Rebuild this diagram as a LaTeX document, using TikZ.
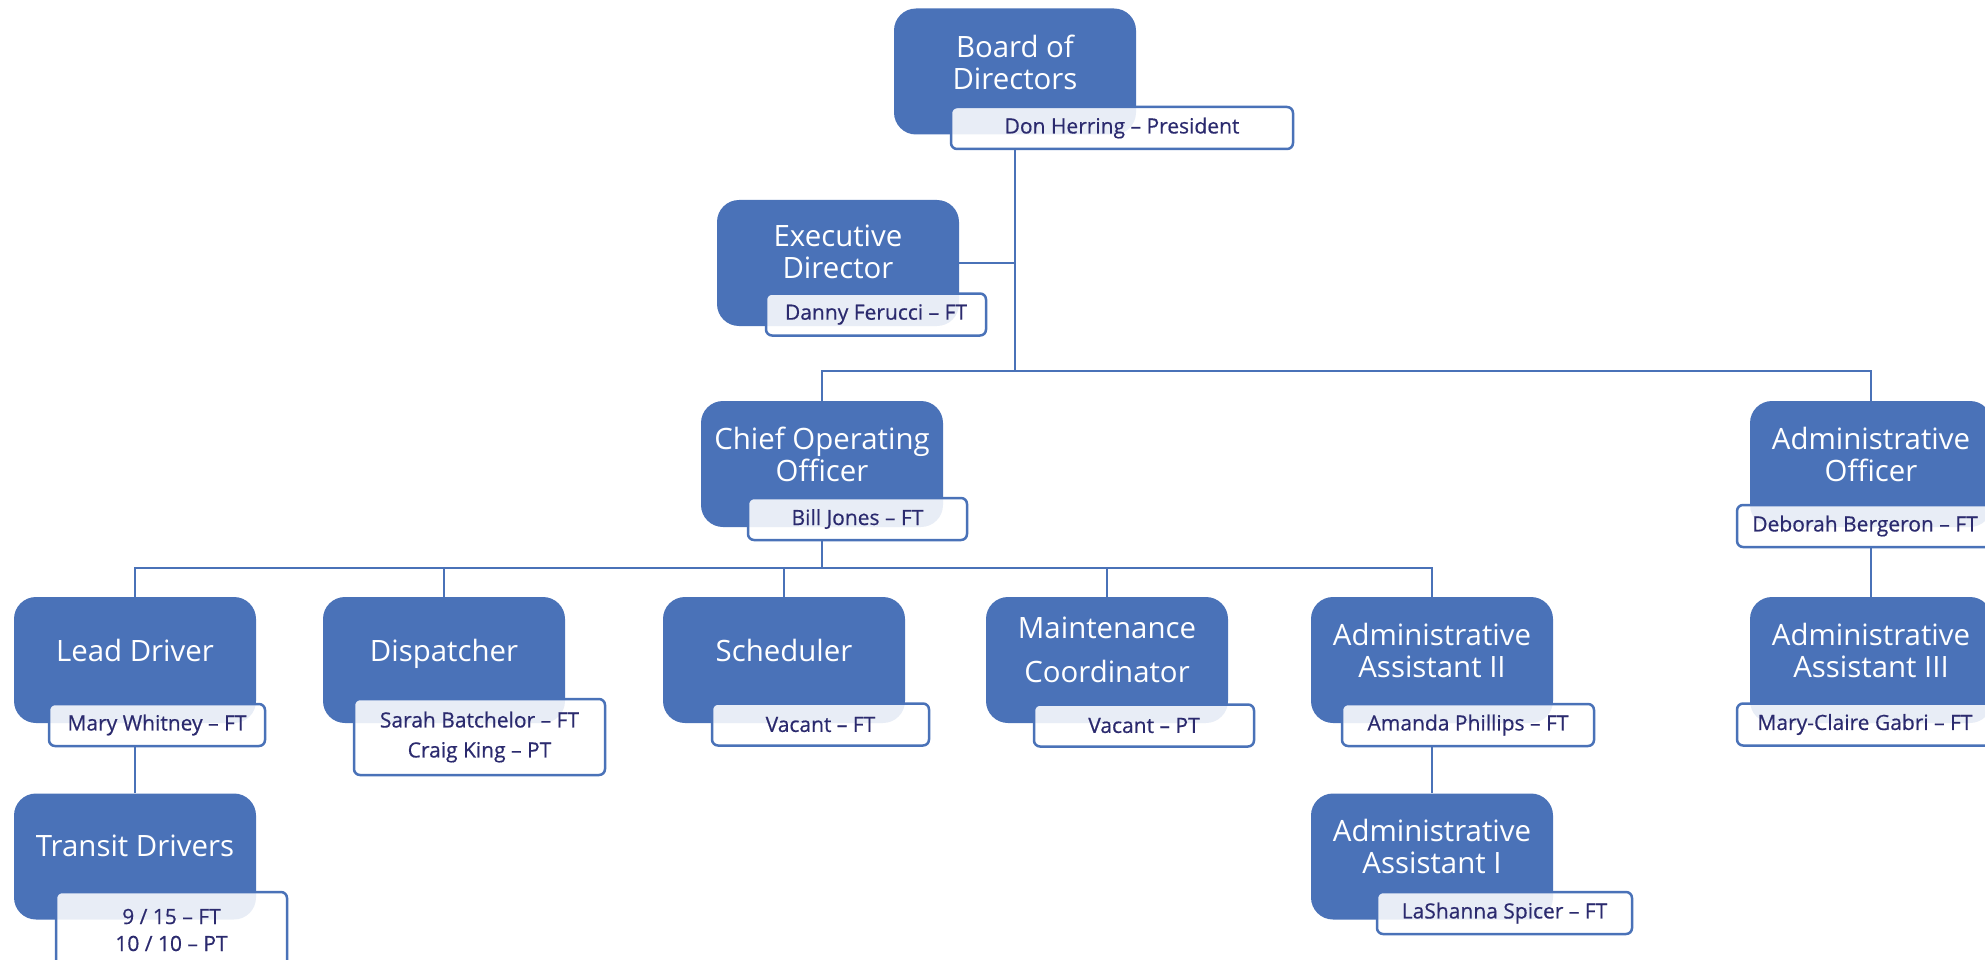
\documentclass[tikz,border=0pt]{standalone}
\usepackage{fontspec}
\setmainfont{Open Sans}
\newfontfamily\stafffont[Ligatures=TeX, FakeBold=0.5]{Open Sans}
\usetikzlibrary{backgrounds}

\definecolor{Unit}{HTML}{4A72B8}
\definecolor{Staff}{HTML}{2B2A6E}

\begin{document}
\begin{tikzpicture}[x=1pt, y=-1pt,
  unit/.style={rectangle, rounded corners=22pt, fill=Unit, minimum width=242pt, minimum height=126pt, inner sep=0pt},
  post/.style={text=white, font=\fontsize{29.4}{32}\selectfont, align=center, inner sep=0pt},
  staff/.style={rectangle, rounded corners=6pt, draw=Unit, line width=2.5pt, fill=white, fill opacity=0.88, text opacity=1, text=Staff, font=\stafffont\fontsize{21}{28}\selectfont, align=center, inner sep=0pt, minimum height=42pt},
  link/.style={draw=Unit, line width=2.5pt}]

\useasboundingbox (0,0) rectangle (1985,960);

%%%%%%%%%% Boxes %%%%%%%%%%
 \node[unit] (Board) at (1015,71.5) {};
 \node[unit] (Exec) at (838,263) {};
 \node[unit] (COO) at (822,464) {};
 \node[unit] (AO) at (1871,464) {};
 \node[unit] (Lead) at (135,660) {};
 \node[unit] (Disp) at (444,660) {};
 \node[unit] (Sched) at (784,660) {};
 \node[unit] (Maint) at (1107,660) {};
 \node[unit] (AA2) at (1432,660) {};
 \node[unit] (AA3) at (1871,660) {};
 \node[unit] (Transit) at (135,856.5) {};
 \node[unit] (AA1) at (1432,856.5) {};

%%%%%%%%%% Titles %%%%%%%%%%
 \node[post] (BoardTitle) at (1015,62) {Board of\\Directors};
 \node[post] (ExecTitle) at (838,252) {Executive\\Director};
 \node[post] (COOTitle) at (822,454) {Chief Operating\\Officer};
 \node[post] (AOTitle) at (1871,454) {Administrative\\Officer};
 \node[post] (LeadTitle) at (135,650) {Lead Driver};
 \node[post, text depth=0pt] (DispTitle) at (444,650) {Dispatcher};
 \node[post] (SchedTitle) at (784,650) {Scheduler};
 \node[post, font=\fontsize{29.4}{44}\selectfont] (MaintTitle) at (1107,650) {Maintenance\\Coordinator};
 \node[post] (AA2Title) at (1432,650) {Administrative\\Assistant II};
 \node[post] (AA3Title) at (1871,650) {Administrative\\Assistant III};
 \node[post] (TransitTitle) at (135,846) {Transit Drivers};
 \node[post] (AA1Title) at (1432,846) {Administrative\\Assistant I};

%%%%%%%%%% Staff %%%%%%%%%%
 \node[staff, minimum width=342pt] (BoardName) at (1122,128) {Don Herring -- President};
 \node[staff, minimum width=220pt] (ExecName) at (876,314.5) {Danny Ferucci -- FT};
 \node[staff, minimum width=219pt] (COOName) at (857.5,519) {Bill Jones -- FT};
 \node[staff, minimum width=256pt] (AOName) at (1865,526) {Deborah Bergeron -- FT};
 \node[staff, minimum width=216pt] (LeadName) at (157,725) {Mary Whitney -- FT};
 \node[staff, minimum width=251pt, minimum height=76pt, font=\stafffont\fontsize{21}{30}\selectfont] (DispName) at (479.5,737) {Sarah Batchelor -- FT\\Craig King -- PT};
 \node[staff, minimum width=217pt] (SchedName) at (820.5,724.5) {Vacant -- FT};
 \node[staff, minimum width=220pt] (MaintName) at (1144,725.5) {Vacant -- PT};
 \node[staff, minimum width=252pt] (AA2Name) at (1468,725) {Amanda Phillips -- FT};
 \node[staff, minimum width=256pt] (AA3Name) at (1865,724.5) {Mary-Claire Gabri -- FT};
 \node[staff, minimum width=231pt, minimum height=76pt, font=\stafffont\fontsize{21}{27}\selectfont] (TransitName) at (171.5,930) {9 / 15 -- FT\\10 / 10 -- PT};
 \node[staff, minimum width=255pt] (AA1Name) at (1504.5,913) {LaShanna Spicer -- FT};

%%%%%%%%%% Links %%%%%%%%%%
\begin{scope}[on background layer]
 \coordinate (Hub) at (1015,371);
 \coordinate (Bus) at (822,568);

 \draw[link] (BoardName.south -| Board.center) -- (Hub);
 \draw[link] (Exec.east) -- (Exec.east -| Hub);
 \draw[link] (COO.north) -- (COO.north |- Hub) -- (AO.north |- Hub) -- (AO.north);
 \draw[link] (COOName.south -| COO.center) -- (Bus);
 \draw[link] (Lead.north) -- (Lead.north |- Bus) -- (AA2.north |- Bus) -- (AA2.north);
 \draw[link] (Disp.north) -- (Disp.north |- Bus);
 \draw[link] (Sched.north) -- (Sched.north |- Bus);
 \draw[link] (Maint.north) -- (Maint.north |- Bus);
 \draw[link] (LeadName.south -| Lead.center) -- (Transit.north);
 \draw[link] (AA2Name.south -| AA2.center) -- (AA1.north);
 \draw[link] (AOName.south -| AO.center) -- (AA3.north);
\end{scope}

\end{tikzpicture}
\end{document}
